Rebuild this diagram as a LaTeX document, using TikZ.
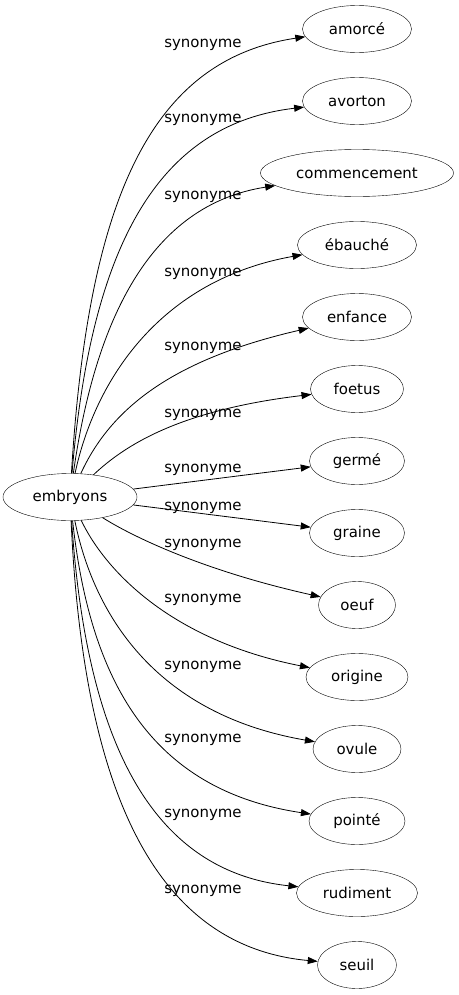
\documentclass[tikz,border=0pt]{standalone}
\usepackage{fontspec}
\setmainfont{DejaVu Sans}
\usetikzlibrary{shapes.geometric,arrows.meta}

\begin{document}
\begin{tikzpicture}[x=1bp, y=-1bp,
  every node/.style={font=\fontsize{15}{18}\selectfont},
  word/.style={draw, ellipse, inner sep=0pt, minimum height=47bp},
  rel/.style={anchor=base, inner sep=0pt},
  syn/.style={-{Triangle[length=10bp,width=7bp]}, line width=0.8bp}]
  \useasboundingbox (0,0) rectangle (459,995);
  % source word
  \node[word, minimum width=134bp] (embryons) at (70,497) {embryons};
  % synonyms
  \node[word, minimum width=109bp] (amorce) at (357,29) {amorcé};
  \node[word, minimum width=109bp] (avorton) at (357,101) {avorton};
  \node[word, minimum width=193bp] (commencement) at (357,173) {commencement};
  \node[word, minimum width=119bp] (ebauche) at (357,245) {ébauché};
  \node[word, minimum width=109bp] (enfance) at (357,317) {enfance};
  \node[word, minimum width=93bp] (foetus) at (357,389) {foetus};
  \node[word, minimum width=95bp] (germe) at (357,461) {germé};
  \node[word, minimum width=95bp] (graine) at (357,533) {graine};
  \node[word, minimum width=77bp] (oeuf) at (357,605) {oeuf};
  \node[word, minimum width=102bp] (origine) at (357,677) {origine};
  \node[word, minimum width=88bp] (ovule) at (357,749) {ovule};
  \node[word, minimum width=96bp] (pointe) at (357,821) {pointé};
  \node[word, minimum width=121bp] (rudiment) at (357,893) {rudiment};
  \node[word, minimum width=79bp] (seuil) at (357,965) {seuil};
  % edge labels
  \node[rel] (l1) at (203,47) {synonyme};
  \node[rel] (l2) at (203,122) {synonyme};
  \node[rel] (l3) at (203,199) {synonyme};
  \node[rel] (l4) at (203,276) {synonyme};
  \node[rel] (l5) at (203,350) {synonyme};
  \node[rel] (l6) at (203,417) {synonyme};
  \node[rel] (l7) at (203,472) {synonyme};
  \node[rel] (l8) at (203,510) {synonyme};
  \node[rel] (l9) at (203,547) {synonyme};
  \node[rel] (l10) at (203,602) {synonyme};
  \node[rel] (l11) at (203,669) {synonyme};
  \node[rel] (l12) at (203,742) {synonyme};
  \node[rel] (l13) at (203,817) {synonyme};
  \node[rel] (l14) at (203,893) {synonyme};
  % edges
  \draw[syn] (embryons) .. controls (88,200) and (150,60) .. (amorce);
  \draw[syn] (embryons) .. controls (90,260) and (150,125) .. (avorton);
  \draw[syn] (embryons) .. controls (95,320) and (150,205) .. (commencement);
  \draw[syn] (embryons) .. controls (95,380) and (160,280) .. (ebauche);
  \draw[syn] (embryons) .. controls (110,410) and (170,360) .. (enfance);
  \draw[syn] (embryons) .. controls (125,445) and (180,410) .. (foetus);
  \draw[syn] (embryons) -- (germe);
  \draw[syn] (embryons) -- (graine);
  \draw[syn] (embryons) .. controls (130,535) and (200,570) .. (oeuf);
  \draw[syn] (embryons) .. controls (105,570) and (170,640) .. (origine);
  \draw[syn] (embryons) .. controls (95,620) and (160,715) .. (ovule);
  \draw[syn] (embryons) .. controls (90,680) and (150,790) .. (pointe);
  \draw[syn] (embryons) .. controls (85,720) and (140,870) .. (rudiment);
  \draw[syn] (embryons) .. controls (82,760) and (140,945) .. (seuil);
\end{tikzpicture}
\end{document}
